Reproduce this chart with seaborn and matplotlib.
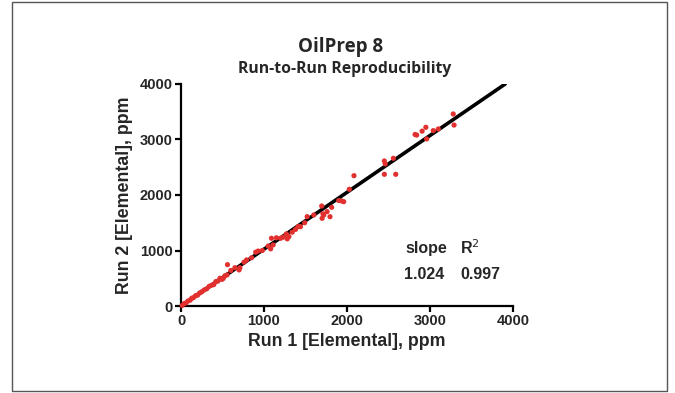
import numpy as np
import pandas as pd
import matplotlib
matplotlib.use("Agg")
import matplotlib.pyplot as plt
import seaborn as sns
from matplotlib.patches import Rectangle

# Dane (ppm)
run1 = [15, 40, 60, 85, 110, 130, 150, 175, 200, 225, 250, 280, 310, 340, 370,
        395, 420, 445, 470, 495, 510, 530, 555, 560, 600, 650, 700, 710, 760, 790,
        850, 900, 930, 980, 1050, 1080, 1090, 1110, 1150, 1200, 1230, 1270, 1280,
        1300, 1340, 1380, 1410, 1440, 1490, 1520, 1600, 1695, 1700, 1710, 1720,
        1760, 1795, 1815, 1900, 1936, 1960, 2028, 2084, 2450, 2450, 2460, 2558,
        2587, 2820, 2840, 2905, 2950, 2960, 3040, 3100, 3280, 3290]
run2 = [10, 45, 55, 90, 105, 140, 150, 185, 195, 235, 255, 290, 310, 355, 375,
        385, 440, 450, 500, 480, 500, 545, 560, 745, 640, 690, 650, 690, 790, 830,
        870, 970, 990, 1000, 1080, 1030, 1220, 1100, 1230, 1220, 1240, 1300, 1210,
        1250, 1330, 1380, 1430, 1430, 1500, 1610, 1640, 1802, 1580, 1660, 1640,
        1700, 1609, 1778, 1900, 1892, 1880, 2103, 2348, 2613, 2373, 2560, 2661,
        2373, 3090, 3080, 3150, 3220, 3010, 3160, 3190, 3460, 3260]

slope = 1.024
r2 = 0.997

df = pd.DataFrame({"Run 1": run1, "Run 2": run2})

sns.set_style("ticks")
plt.rcParams["font.family"] = ["Liberation Sans", "DejaVu Sans"]

fig = plt.figure(figsize=(6.75, 3.93), dpi=100)
ax = fig.add_axes([181 / 675, 87 / 393, 332 / 675, 222 / 393])

# linia regresji
line_x = np.array([0, 4000 / slope])
ax.plot(line_x, slope * line_x, color="black", lw=2.6, zorder=2)

sns.scatterplot(data=df, x="Run 1", y="Run 2", ax=ax, color="#e2302f",
                s=14, edgecolor="none", zorder=3, clip_on=False)

ax.set_xlim(0, 4000)
ax.set_ylim(0, 4000)
ax.set_xticks([0, 1000, 2000, 3000, 4000])
ax.set_yticks([0, 1000, 2000, 3000, 4000])
sns.despine(ax=ax)
for s in ["left", "bottom"]:
    ax.spines[s].set_linewidth(1.6)
    ax.spines[s].set_color("black")
ax.tick_params(width=1.6, length=4, labelsize=10.5, pad=2, color="black")
for lab in ax.get_xticklabels() + ax.get_yticklabels():
    lab.set_fontweight("bold")

ax.set_xlabel("Run 1 [Elemental], ppm", fontsize=12.8, fontweight="bold", labelpad=3)
ax.set_ylabel("Run 2 [Elemental], ppm", fontsize=12.8, fontweight="bold", labelpad=5)

# tytuł
fig.text(341 / 675, 1 - 47 / 393, "OilPrep 8", ha="center", va="center",
         fontsize=13.5, fontweight="bold", family=["Open Sans", "DejaVu Sans"])
fig.text(345 / 675, 1 - 69 / 393, "Run-to-Run Reproducibility", ha="center",
         va="center", fontsize=11.3, fontweight="bold", family=["Open Sans", "DejaVu Sans"])

# slope / R2
ax.text(2950, 1045, "slope", ha="center", va="center", fontsize=11.5, fontweight="bold")
ax.text(3480, 1045, "R$^2$", ha="center", va="center", fontsize=11.5, fontweight="bold")
ax.text(2930, 560, f"{slope:.3f}", ha="center", va="center", fontsize=11.5, fontweight="bold")
ax.text(3610, 560, f"{r2:.3f}", ha="center", va="center", fontsize=11.5, fontweight="bold")

# ramka
fig.patches.append(Rectangle((12 / 675, 2 / 393), 655 / 675, 389 / 393,
                             transform=fig.transFigure, fill=False,
                             edgecolor="#555555", lw=1.0))

fig.savefig("out.png", dpi=100)
